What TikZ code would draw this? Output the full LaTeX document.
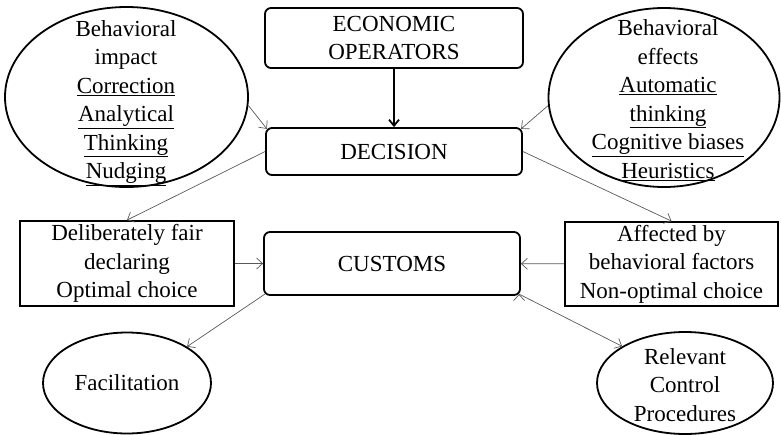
\documentclass[tikz,border=0pt]{standalone}
\usepackage{fontspec}
\setmainfont{Liberation Serif}
\usetikzlibrary{positioning,shapes,arrows,arrows.meta,shapes.geometric}

\begin{document}
\begin{tikzpicture}[x=1pt, y=-1pt,
    ->,
    >={Straight Barb[length=6pt,width=11pt]},
    font=\fontsize{23}{28.5}\selectfont,
    rb/.style={%
      rectangle, rounded corners=6pt, draw=black, line width=1.8pt,
      inner sep=0pt, align=center
    },
    sb/.style={%
      rectangle, draw=black, line width=1.8pt,
      inner sep=0pt, align=center
    },
    el/.style={%
      ellipse, draw=black, line width=1.8pt, inner sep=0pt
    },
    txt/.style={inner sep=0pt, align=center},
    thin link/.style={draw=black!65, line width=0.7pt}
]
    \useasboundingbox (0,0) rectangle (781,434);

    \node[rb, minimum width=258pt, minimum height=60pt] (eco) at (394,38)    {ECONOMIC\\OPERATORS};
    \node[rb, minimum width=256pt, minimum height=47pt] (dec) at (394,151.5) {DECISION};
    \node[rb, minimum width=256pt, minimum height=63pt] (cus) at (392,263.5) {CUSTOMS};

    % ellipses first, their texts on top
    \node[el, minimum width=243pt, minimum height=180pt] (impact)  at (126.5,97) {};
    \node[el, minimum width=231pt, minimum height=179pt] (effects) at (664,97.5) {};
    \node[el, minimum width=168pt, minimum height=101pt] (fac) at (127,383) {};
    \node[el, minimum width=176pt, minimum height=102pt] (rel) at (685,383) {};

    \node[txt] (impact text)  at (126,103)
      {Behavioral\\impact\\\underline{Correction}\\\underline{Analytical}\\\underline{Thinking}\\\underline{Nudging}};
    \node[txt] (effects text) at (668,100)
      {Behavioral\\effects\\\underline{Automatic}\\\underline{thinking}\\\underline{Cognitive biases}\\\underline{Heuristics}};
    \node[txt] (fac text) at (fac.center) {Facilitation};
    \node[txt] (rel text) at (685,385) {Relevant\\Control\\Procedures};

    \node[sb, minimum width=214pt, minimum height=85pt] (fair)   at (127,263.5)
      {Deliberately fair\\declaring\\Optimal choice};
    \node[sb, minimum width=213pt, minimum height=84pt] (biased) at (671.5,264)
      {Affected by\\behavioral factors\\Non-optimal choice};

    \draw[line width=1.8pt, -{Straight Barb[length=6pt,width=10pt,line width=1.8pt]}] (eco) -- (dec);

    \path[thin link]
          (impact.-4)   edge ([shift={(1.8,1.8)}]dec.north west)
          (effects.184) edge ([shift={(-1.8,1.8)}]dec.north east)
          (dec.west)    edge (fair.north)
          (dec.east)    edge (biased.north)
          (fair)        edge (cus)
          (biased)      edge (cus)
          ([shift={(1.8,-1.8)}]cus.south west)  edge (fac.north east)
          ([shift={(-1.8,-1.8)}]cus.south east) edge (rel.north west)
    ;

\end{tikzpicture}
\end{document}
